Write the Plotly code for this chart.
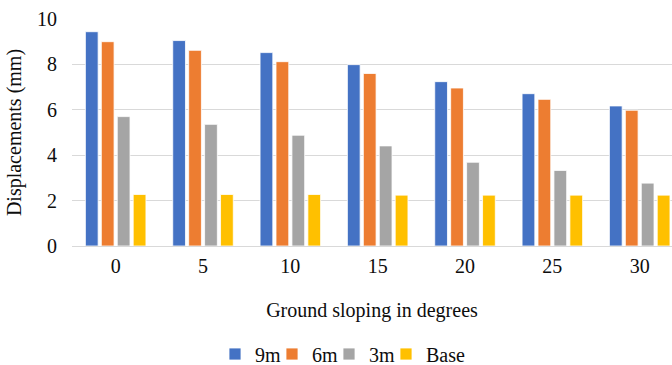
import plotly.graph_objects as go

categories = ["0", "5", "10", "15", "20", "25", "30"]
s9m = [9.44, 9.05, 8.52, 7.99, 7.24, 6.71, 6.17]
s6m = [9.00, 8.62, 8.12, 7.60, 6.96, 6.46, 5.98]
s3m = [5.70, 5.36, 4.88, 4.41, 3.69, 3.33, 2.77]
base = [2.27, 2.27, 2.27, 2.24, 2.24, 2.24, 2.24]
series_names = ["9m", "6m", "3m", "Base"]
colors = ["#4472C4", "#ED7D31", "#A5A5A5", "#FFC000"]

FONT = "Liberation Serif"
TXT = "#0d0d0d"

fig = go.Figure()
for name, vals, col in zip(series_names, [s9m, s6m, s3m, base], colors):
    fig.add_trace(go.Bar(
        x=categories, y=vals, name=name,
        marker=dict(color=col, line=dict(color="white", width=0.8)),
    ))
# invisible spacer legend entry so the last legend label is not clipped
fig.add_trace(go.Scatter(x=[None], y=[None], name=" ", mode="markers",
                         marker=dict(color="rgba(0,0,0,0)"), hoverinfo="skip"))

fig.update_layout(
    width=672, height=365,
    margin=dict(l=72, r=0, t=19, b=119, autoexpand=False),
    paper_bgcolor="white", plot_bgcolor="white",
    barmode="group", bargap=0.27, bargroupgap=0.2,
    font=dict(family=FONT, size=20, color=TXT),
    xaxis=dict(
        type="category", range=[-0.5, 6.37], automargin=False,
        showgrid=False, showline=False, zeroline=False, ticks="",
        ticklabelstandoff=6,
        title=dict(text="Ground sloping in degrees", standoff=26,
                   font=dict(family=FONT, size=20, color=TXT)),
        tickfont=dict(family=FONT, size=20, color=TXT),
    ),
    yaxis=dict(
        range=[0, 10], dtick=2, showgrid=True, gridcolor="#D9D9D9", gridwidth=1.3,
        zeroline=True, zerolinecolor="#D9D9D9", zerolinewidth=1.3, automargin=False,
        showline=False, ticks="", ticklabelstandoff=14,
        title=dict(text="Displacements (mm)", standoff=10,
                   font=dict(family=FONT, size=20, color=TXT)),
        tickfont=dict(family=FONT, size=20, color=TXT),
    ),
    legend=dict(
        orientation="h", x=(215 - 72) / 600, xanchor="left", y=-(354 - 246) / 227, yanchor="middle",
        font=dict(family=FONT, size=20, color=TXT),
        itemwidth=30, traceorder="normal", entrywidth=12,
    ),
)

fig.write_html("out.html")
